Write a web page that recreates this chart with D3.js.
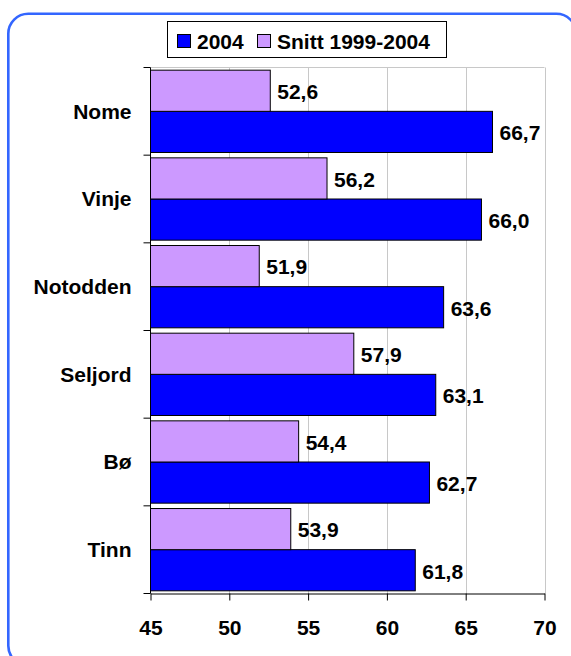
<!DOCTYPE html>
<html>
<head>
<meta charset="utf-8">
<script src="https://cdn.jsdelivr.net/npm/d3@7"></script>
<style>
  html, body { margin: 0; padding: 0; background: #fff; }
  svg { display: block; }
  text { font-family: Arial, "Liberation Sans", sans-serif; font-weight: bold; fill: #000; }
</style>
</head>
<body>
<svg id="chart" width="571" height="656"></svg>
<script>
const categories = ["Nome", "Vinje", "Notodden", "Seljord", "Bø", "Tinn"];
const values2004 = [66.7, 66.0, 63.6, 63.1, 62.7, 61.8];
const valuesSnitt = [52.6, 56.2, 51.9, 57.9, 54.4, 53.9];
const seriesNames = ["2004", "Snitt 1999-2004"];
const xTicks = [45, 50, 55, 60, 65, 70];
const colors = { "2004": "#0000ff", "Snitt 1999-2004": "#cc99ff" };

const svg = d3.select("#chart");
const fmt = v => d3.format(".1f")(v).replace(".", ",");

// outer rounded border
svg.append("rect")
  .attr("x", 8.3).attr("y", 13.8)
  .attr("width", 568).attr("height", 652)
  .attr("rx", 20).attr("ry", 20)
  .attr("fill", "none").attr("stroke", "#3366ff").attr("stroke-width", 2.6);

const plot = { left: 150.5, right: 544.5, top: 67.5, bottom: 593.5 };

const x = d3.scaleLinear().domain([45, 70]).range([plot.left, plot.right]);
const y = d3.scaleBand().domain(categories).range([plot.top, plot.bottom]).paddingInner(0).paddingOuter(0);
const inner = d3.scaleBand().domain(["Snitt 1999-2004", "2004"]).range([0, y.bandwidth()]).paddingInner(0).paddingOuter(0.065);

// gridlines (vertical)
svg.append("g").selectAll("line").data(xTicks.slice(1)).join("line")
  .attr("x1", d => Math.round(x(d)) + 0.5).attr("x2", d => Math.round(x(d)) + 0.5)
  .attr("y1", plot.top).attr("y2", plot.bottom)
  .attr("stroke", "#c8c8c8").attr("stroke-width", 1);
// top border of plot area
svg.append("line")
  .attr("x1", plot.left).attr("x2", plot.right)
  .attr("y1", plot.top).attr("y2", plot.top)
  .attr("stroke", "#c8c8c8").attr("stroke-width", 1);

// bars
const rows = categories.map((c, i) => ({ cat: c, "2004": values2004[i], "Snitt 1999-2004": valuesSnitt[i] }));
const groups = svg.append("g").selectAll("g").data(rows).join("g")
  .attr("transform", d => `translate(0,${y(d.cat)})`);

seriesNames.forEach(s => {
  groups.append("rect")
    .attr("x", x(45))
    .attr("y", inner(s))
    .attr("width", d => x(d[s]) - x(45))
    .attr("height", inner.bandwidth())
    .attr("fill", colors[s])
    .attr("stroke", "#000").attr("stroke-width", 1);
  groups.append("text")
    .attr("x", d => x(d[s]) + 7)
    .attr("y", inner(s) + inner.bandwidth() / 2 + 1)
    .attr("dy", "0.35em")
    .attr("font-size", 21)
    .text(d => fmt(d[s]));
});

// x axis
const xAxis = d3.axisBottom(x).tickValues(xTicks).tickSize(7).tickSizeOuter(0).tickPadding(20).tickFormat(d => d);
const gx = svg.append("g").attr("transform", `translate(0,${plot.bottom})`).call(xAxis);
gx.select(".domain").attr("stroke", "#000");
gx.selectAll(".tick line").attr("stroke", "#000");
gx.selectAll(".tick text").attr("font-size", 21).attr("font-family", "Arial, 'Liberation Sans', sans-serif").attr("font-weight", "bold").attr("fill", "#000");

// y axis: line + ticks at category boundaries
const gy = svg.append("g");
gy.append("line")
  .attr("x1", plot.left).attr("x2", plot.left)
  .attr("y1", plot.top).attr("y2", plot.bottom)
  .attr("stroke", "#000");
const boundaries = categories.map(c => y(c)).concat([plot.bottom]);
gy.selectAll("line.tk").data(boundaries).join("line").attr("class", "tk")
  .attr("x1", plot.left - 7).attr("x2", plot.left)
  .attr("y1", d => d).attr("y2", d => d)
  .attr("stroke", "#000");
gy.selectAll("text").data(categories).join("text")
  .attr("x", 131.5)
  .attr("y", d => y(d) + y.bandwidth() / 2)
  .attr("dy", "0.35em")
  .attr("text-anchor", "end")
  .attr("font-size", 21)
  .text(d => d);

// legend
const lg = svg.append("g");
lg.append("rect")
  .attr("x", 167.5).attr("y", 21.5).attr("width", 279).attr("height", 36)
  .attr("fill", "#fff").attr("stroke", "#000").attr("stroke-width", 1);
const legendItems = [
  { name: "2004", sx: 177, tx: 197 },
  { name: "Snitt 1999-2004", sx: 257, tx: 277 }
];
lg.selectAll("rect.sw").data(legendItems).join("rect").attr("class", "sw")
  .attr("x", d => d.sx + 0.5).attr("y", 34.5).attr("width", 13).attr("height", 13)
  .attr("fill", d => colors[d.name]).attr("stroke", "#000");
lg.selectAll("text").data(legendItems).join("text")
  .attr("x", d => d.tx).attr("y", 41.5).attr("dy", "0.35em")
  .attr("font-size", 21)
  .text(d => d.name);
</script>
</body>
</html>
